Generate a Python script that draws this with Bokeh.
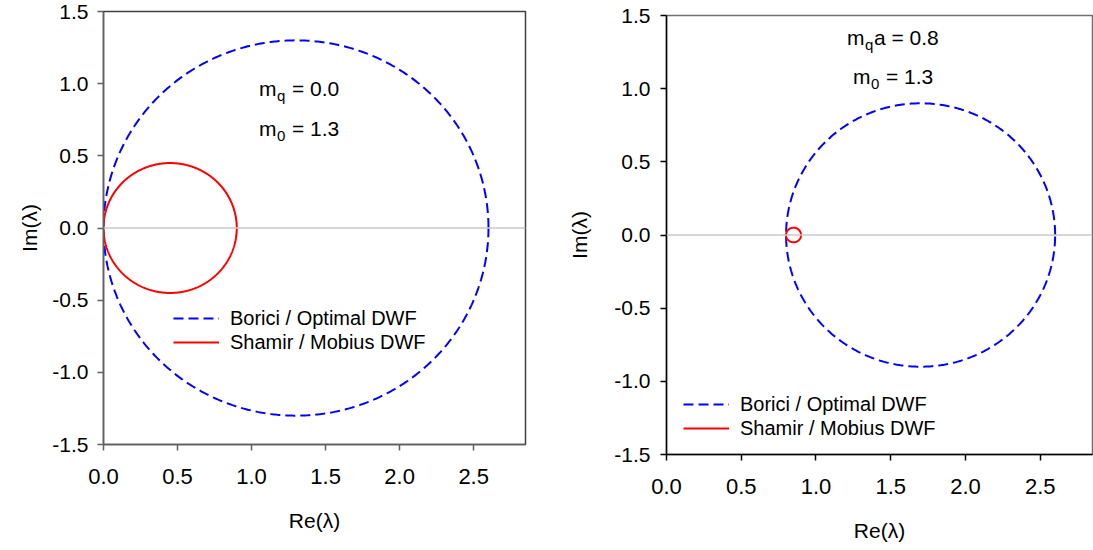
import numpy as np
from bokeh.plotting import figure
from bokeh.layouts import row
from bokeh.models import (Span, Legend, LegendItem, FixedTicker, NumeralTickFormatter,
                          ColumnDataSource)
from bokeh.core.properties import value
from bokeh.embed import file_html
from bokeh.resources import INLINE

FONT = "Liberation Sans"

# Eigenvalue circles: centre on the real axis and radius
left_borici = dict(center=1.3, radius=1.3)
left_shamir = dict(center=0.45, radius=0.45)
right_borici = dict(center=1.7, radius=0.9)
right_shamir = dict(center=0.85, radius=0.05)

legend_labels = ["Borici / Optimal DWF", "Shamir / Mobius DWF"]

# Parameter annotations: base letter, subscript, remainder
left_ann_x = [1.05, 1.05]
left_ann_y = [0.967, 0.688]
left_ann_main = ["m", "m"]
left_ann_sub = ["q", "0"]
left_ann_rest = ["= 0.0", "= 1.3"]

right_ann_x = [1.207, 1.247]
right_ann_y = [1.35, 1.083]
right_ann_main = ["m", "m"]
right_ann_sub = ["q", "0"]
right_ann_rest = ["a = 0.8", "= 1.3"]

x_ticks = [0.0, 0.5, 1.0, 1.5, 2.0, 2.5]
y_ticks = [-1.5, -1.0, -0.5, 0.0, 0.5, 1.0, 1.5]

theta = np.linspace(0, 2 * np.pi, 721)


def circle_pts(c):
    return c["center"] + c["radius"] * np.cos(theta), c["radius"] * np.sin(theta)


def make_panel(width, borders, axis_color, outline_color, borici, shamir,
               ann, legend_loc, ylab_standoff, yaxis_label_standoff):
    p = figure(width=width, height=550, x_range=(0, 2.85), y_range=(-1.5, 1.5),
               output_backend="svg", toolbar_location=None, title=None,
               frame_align=False,
               min_border_left=borders[0], min_border_right=borders[1],
               min_border_top=borders[2], min_border_bottom=borders[3])
    p.grid.visible = False
    p.background_fill_color = "white"
    p.border_fill_color = "white"
    p.outline_line_color = outline_color
    p.outline_line_width = 1.5

    p.add_layout(Span(location=0, dimension="width", line_color="#c8c8c8", line_width=1.5))

    bx, by = circle_pts(borici)
    sx, sy = circle_pts(shamir)
    r1 = p.line(bx, by, line_color="#0000ff", line_width=2, line_dash="10 5")
    r2 = p.line(sx, sy, line_color="#ff0000", line_width=2)

    for ax in (p.xaxis[0], p.yaxis[0]):
        ax.axis_line_color = axis_color
        ax.axis_line_width = 1.5
        ax.major_tick_line_color = axis_color
        ax.major_tick_line_width = 1.5
        ax.major_tick_in = 0
        ax.major_tick_out = 6
        ax.minor_tick_line_color = None
        ax.major_label_text_color = "black"
        ax.major_label_text_font = FONT
        ax.axis_label_text_font = FONT
        ax.axis_label_text_font_size = "21px"
        ax.axis_label_text_font_style = "normal"
        ax.axis_label_text_color = "black"
        ax.formatter = NumeralTickFormatter(format="0.0")

    p.xaxis.major_label_text_font_size = "22px"
    p.yaxis.major_label_text_font_size = "21px"
    p.xaxis.ticker = FixedTicker(ticks=x_ticks)
    p.yaxis.ticker = FixedTicker(ticks=y_ticks)
    p.xaxis.axis_label = "Re(λ)"
    p.yaxis.axis_label = "Im(λ)"
    p.xaxis.major_label_standoff = 18
    p.xaxis.axis_label_standoff = 22
    p.yaxis.major_label_standoff = ylab_standoff
    p.yaxis.axis_label_standoff = yaxis_label_standoff

    ax_x, ax_y, main, sub, rest = ann
    rest_offset = [27 if r.startswith("a") else 33 for r in rest]
    src = ColumnDataSource(dict(x=ax_x, y=ax_y, main=main, sub=sub, rest=rest,
                                rest_offset=rest_offset))
    p.text("x", "y", text="main", source=src, text_font=value(FONT),
           text_font_size="21px", text_baseline="middle", text_align="left",
           text_color="black")
    p.text("x", "y", text="sub", source=src, text_font=value(FONT),
           text_font_size="15px", text_baseline="middle", text_align="left",
           text_color="black", x_offset=18, y_offset=7)
    p.text("x", "y", text="rest", source=src, text_font=value(FONT),
           text_font_size="21px", text_baseline="middle", text_align="left",
           text_color="black", x_offset="rest_offset")

    legend = Legend(items=[LegendItem(label=legend_labels[0], renderers=[r1]),
                           LegendItem(label=legend_labels[1], renderers=[r2])],
                    location=legend_loc, padding=0, spacing=0, margin=0,
                    glyph_width=46, glyph_height=24, label_height=24,
                    label_standoff=11, border_line_color=None,
                    background_fill_alpha=0, label_text_font=FONT,
                    label_text_font_size="20px", label_text_color="black")
    p.add_layout(legend)
    return p


p1 = make_panel(546, (103, 21, 11, 106), "#606060", "#404040",
                left_borici, left_shamir,
                (left_ann_x, left_ann_y, left_ann_main, left_ann_sub, left_ann_rest),
                (70, 90), 9, 8)
p2 = make_panel(547, (120, 1, 15, 96), "black", "#707070",
                right_borici, right_shamir,
                (right_ann_x, right_ann_y, right_ann_main, right_ann_sub, right_ann_rest),
                (17, 14), 10, 20)

layout = row(p1, p2)
open("out.html", "w").write(file_html(layout, INLINE))
